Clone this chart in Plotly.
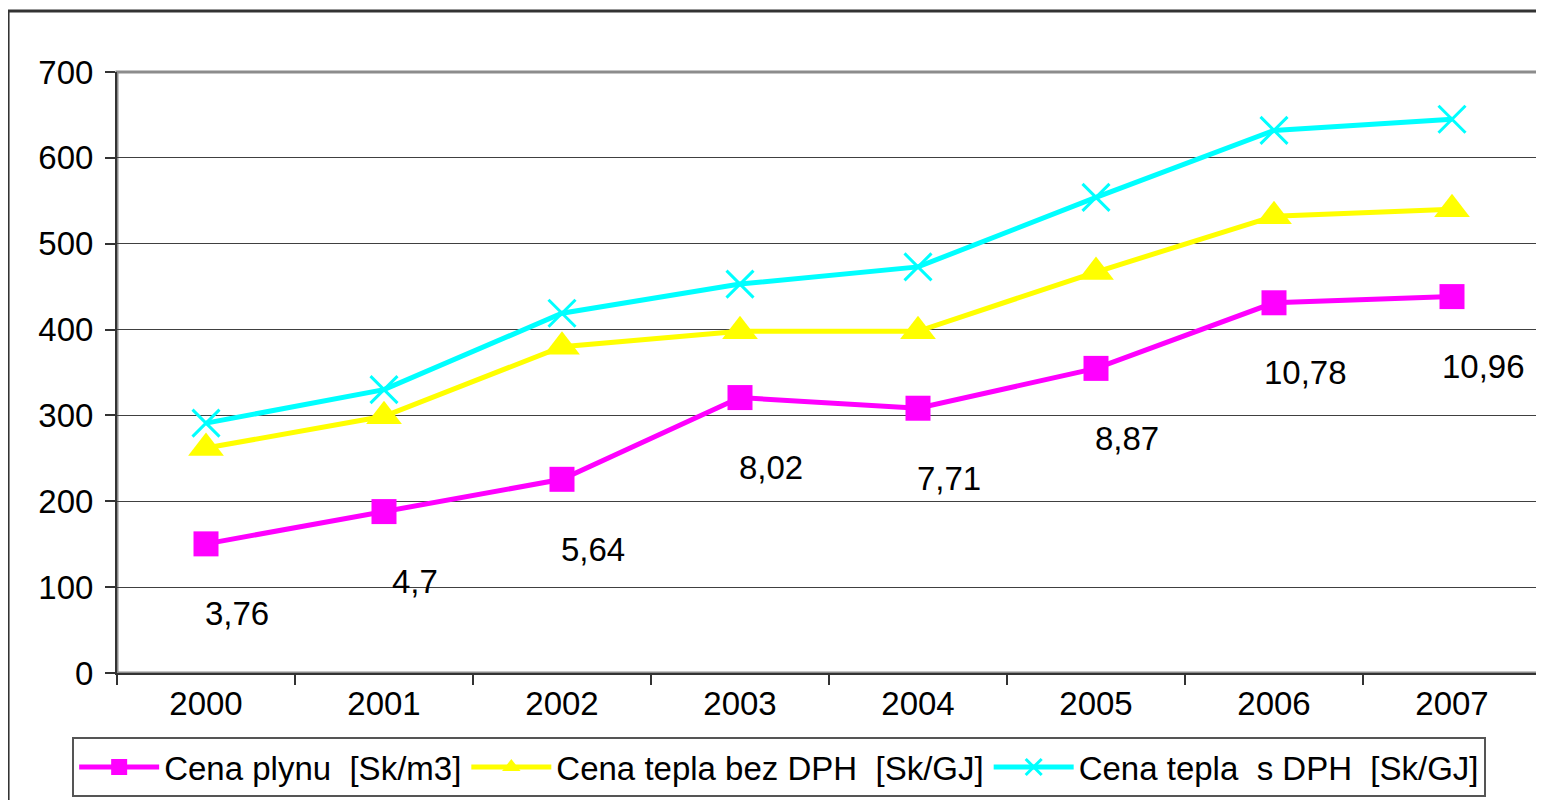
import plotly.graph_objects as go

years = ["2000", "2001", "2002", "2003", "2004", "2005", "2006", "2007"]
cena_plynu = [150.4, 188, 225.6, 320.8, 308.4, 354.8, 431.2, 438.4]
plyn_labels = ["3,76", "4,7", "5,64", "8,02", "7,71", "8,87", "10,78", "10,96"]
tepla_bez_dph = [262, 299, 380, 398, 398, 467, 532, 540]
tepla_s_dph = [291, 330, 419, 453, 473, 554, 632, 645]
y_ticks = [0, 100, 200, 300, 400, 500, 600, 700]

FONT = "Liberation Sans, Arial, sans-serif"
FS = 33

fig = go.Figure()
fig.add_trace(go.Scatter(
    x=years, y=cena_plynu, name="Cena plynu  [Sk/m3]", mode="lines+markers",
    line=dict(color="#FF00FF", width=5),
    marker=dict(symbol="square", size=25, color="#FF00FF"),
))
fig.add_trace(go.Scatter(
    x=years, y=tepla_bez_dph, name="Cena tepla bez DPH  [Sk/GJ]", mode="lines+markers",
    line=dict(color="#FFFF00", width=5),
    marker=dict(symbol="triangle-up", size=31, color="#FFFF00"),
))
fig.add_trace(go.Scatter(
    x=years, y=tepla_s_dph, name="Cena tepla  s DPH  [Sk/GJ]", mode="lines+markers",
    line=dict(color="#00FFFF", width=5),
    marker=dict(symbol="x-thin", size=27, color="#00FFFF",
                line=dict(color="#00FFFF", width=3)),
))

for i, (yv, txt) in enumerate(zip(cena_plynu, plyn_labels)):
    fig.add_annotation(x=i, y=yv, xref="x", yref="y", text=txt, showarrow=False,
                       xshift=31, yshift=-70,
                       font=dict(family=FONT, size=FS, color="black"))

# plot-area border (gray) and outer chart border
fig.add_shape(type="rect", xref="paper", yref="paper", x0=0, y0=0, x1=1, y1=1,
              line=dict(color="#8c8c8c", width=3), layer="below")
fig.add_shape(type="rect", xref="paper", yref="paper",
              x0=-0.0765, y0=-0.3, x1=1.05, y1=1.1015,
              line=dict(color="#333333", width=3), layer="below")

fig.update_layout(
    width=1536, height=792,
    margin=dict(l=109, r=3, t=64, b=127),
    paper_bgcolor="white", plot_bgcolor="white",
    font=dict(family=FONT, size=FS, color="black"),
    showlegend=True,
    legend=dict(
        orientation="h", x=0.465, xanchor="center", y=-0.1065, yanchor="top",
        bordercolor="#555555", borderwidth=2, bgcolor="white",
        font=dict(family=FONT, size=FS, color="black"),
        itemwidth=80, tracegroupgap=0,
    ),
    xaxis=dict(
        type="category", range=[-0.5, 7.5], tickson="boundaries",
        ticks="outside", ticklen=10, tickcolor="#333333", tickwidth=2,
        showline=True, linecolor="#333333", linewidth=2,
        showgrid=False, zeroline=False,
        tickfont=dict(family=FONT, size=FS, color="black"),
    ),
    yaxis=dict(
        range=[0, 700], tickvals=y_ticks,
        ticks="outside", ticklen=10, tickcolor="#333333", tickwidth=2,
        showline=True, linecolor="#333333", linewidth=2,
        showgrid=True, gridcolor="#404040", gridwidth=1,
        zeroline=False, ticklabelstandoff=5,
        tickfont=dict(family=FONT, size=FS, color="black"),
    ),
)

fig.write_html("out.html")
